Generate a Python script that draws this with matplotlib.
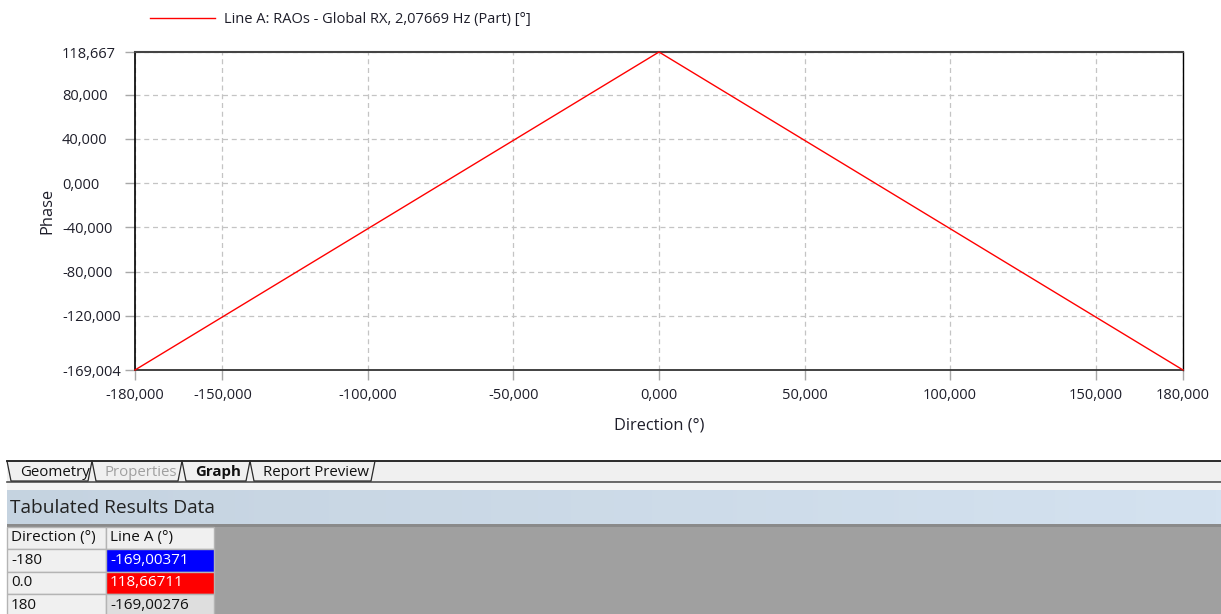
import numpy as np
import matplotlib
matplotlib.use("Agg")
import matplotlib.pyplot as plt
from matplotlib.patches import Rectangle
from matplotlib.ticker import FuncFormatter, FixedLocator

plt.rcParams['font.family'] = ['Open Sans', 'DejaVu Sans']

# data (from the tabulated results)
direction = [-180, 0.0, 180]
direction_labels = ['-180', '0.0', '180']
phase = [-169.00371, 118.66711, -169.00276]

series_label = 'Line A: RAOs - Global RX, 2,07669 Hz (Part) [°]'
xticks = [-180, -150, -100, -50, 0, 50, 100, 150, 180]
yticks = [-120, -80, -40, 0, 40, 80]
tabs = ['Geometry', 'Properties', 'Graph', 'Report Preview']
table_header = ['Direction (°)', 'Line A (°)']

W, H = 1221, 614
fig = plt.figure(figsize=(W / 100, H / 100), dpi=100, facecolor='white')


def px(x0, y0, x1, y1):
    # pixel box -> figure fraction rect
    return [x0 / W, 1 - y1 / H, (x1 - x0) / W, (y1 - y0) / H]


def comma(v, p=3):
    return f"{v:.{p}f}".replace('.', ',')


# ---- chart ----
ax = fig.add_axes(px(135, 52, 1183, 370))
ax.plot(direction, phase, color='#ff0000', lw=1.0, label=series_label, clip_on=False, zorder=3)
ax.set_xlim(-180, 180)
ax.set_ylim(min(phase), max(phase))
ax.xaxis.set_major_locator(FixedLocator(xticks))
ax.yaxis.set_major_locator(FixedLocator([min(phase)] + yticks + [max(phase)]))
ax.xaxis.set_major_formatter(FuncFormatter(lambda v, p: comma(v)))
ax.yaxis.set_major_formatter(FuncFormatter(lambda v, p: comma(v)))
ax.grid(True, color='#c4c4c4', ls=(0, (4, 3)), lw=0.9)
ax.tick_params(axis='both', direction='out', length=7.2, width=1, color='#a8a8a8',
               labelsize=10.5, labelcolor='#1e1e2a')
ax.tick_params(axis='x', pad=5.5)
ax.tick_params(axis='y', pad=45.4)
for lab in ax.get_yticklabels():
    lab.set_ha('left')
for side, c, w in [('left', 'black', 1.2), ('bottom', '#333333', 1.3),
                   ('top', '#444444', 1.5), ('right', 'black', 1.0)]:
    ax.spines[side].set_color(c)
    ax.spines[side].set_linewidth(w)

ax.set_xlabel('Direction (°)', fontsize=11.8, color='#1e1e2a', va='center')
ax.xaxis.set_label_coords(0.5, (370 - 426) / 318)
ax.set_ylabel('Phase', fontsize=11.8, color='#1e1e2a', va='center')
ax.yaxis.set_label_coords((47 - 135) / 1048, 0.5)

fig.legend(loc='center left', bbox_to_anchor=(150 / W, 1 - 19.5 / H), frameon=False,
           fontsize=10.5, handlelength=4.46, handletextpad=0.62, borderpad=0, borderaxespad=0,
           labelcolor='#1e1e2a')

# ---- window chrome below the chart (pixel coords) ----
ui = fig.add_axes([0, 0, 1, 1], zorder=-1)
ui.set_xlim(0, W)
ui.set_ylim(H, 0)
ui.axis('off')

# tab strip
ui.add_patch(Rectangle((7, 461), W - 7, 21, fc='#f0f0f0', ec='none'))
ui.plot([7, W], [460.5, 460.5], color='#1a1a1a', lw=1.3)
ui.plot([7, W], [482, 482], color='#505050', lw=1.2)
tab_x = [7, 92, 182, 250, 375]
for i, name in enumerate(tabs):
    x0, x1 = tab_x[i], tab_x[i + 1]
    ui.plot([x0, x0 + 4, x1 - 4, x1], [461, 481, 481, 461], color='#2a2a2a', lw=0.9)
    col = '#a0a0a0' if name == 'Properties' else '#111111'
    wt = 'bold' if name == 'Graph' else 'normal'
    ui.text(x0 + 13, 472, name, fontsize=10.8, color=col, fontweight=wt, va='center', ha='left')

# header band
ui.add_patch(Rectangle((7, 483), W - 7, 7, fc='#f4f4f4', ec='none'))
grad = np.linspace(0, 1, 256).reshape(1, -1)
band = plt.matplotlib.colors.LinearSegmentedColormap.from_list('band', ['#c5d3e0', '#d4e2f0'])
ui.imshow(grad, cmap=band, extent=(7, W, 524, 490), aspect='auto', zorder=1)
ui.text(10, 508, 'Tabulated Results Data', fontsize=13.8, color='#222222', va='center', ha='left', zorder=2)
ui.add_patch(Rectangle((7, 524), W - 7, 2.5, fc='#8a8a8a', ec='none', zorder=2))
ui.add_patch(Rectangle((7, 526), W - 7, H - 526, fc='#a0a0a0', ec='none', zorder=1))

# table
col_x = [7, 106, 214]
row_y = [527, 549, 572, 594, 617]
fmt_vals = [comma(v, 5) for v in phase]
cells = [table_header] + [[d, v] for d, v in zip(direction_labels, fmt_vals)]
fills = {(1, 1): ('#0000ff', 'white'), (2, 1): ('#ff0000', 'white'), (3, 1): ('#dedede', '#111111')}
for r, row in enumerate(cells):
    for c, txt in enumerate(row):
        fc, tc = fills.get((r, c), ('#f0f0f0', '#111111'))
        ui.add_patch(Rectangle((col_x[c], row_y[r]), col_x[c + 1] - col_x[c], row_y[r + 1] - row_y[r],
                               fc=fc, ec='#b4b4b4', lw=1, zorder=3))
        ui.text(col_x[c] + 4, (row_y[r] + row_y[r + 1]) / 2, txt, fontsize=11, color=tc,
                va='center', ha='left', zorder=4)

fig.savefig('out.png', dpi=100)
